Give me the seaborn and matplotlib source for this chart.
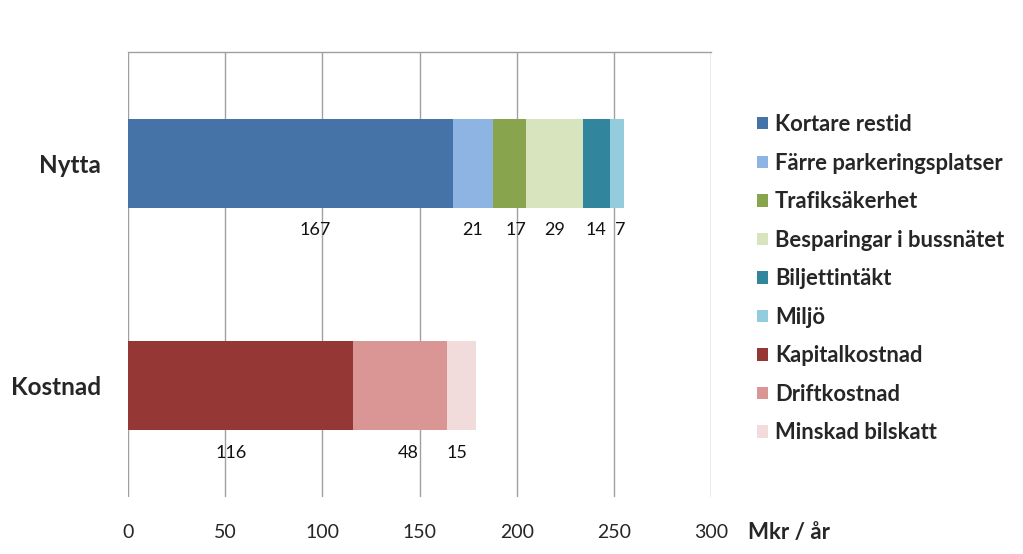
import matplotlib
matplotlib.use("Agg")
import matplotlib.pyplot as plt
import seaborn as sns
import pandas as pd
import numpy as np
from matplotlib.patches import Patch

categories = ["Nytta", "Kostnad"]
nytta_series = ["Kortare restid", "Färre parkeringsplatser", "Trafiksäkerhet",
                "Besparingar i bussnätet", "Biljettintäkt", "Miljö"]
nytta_values = [167, 21, 17, 29, 14, 7]
kostnad_series = ["Kapitalkostnad", "Driftkostnad", "Minskad bilskatt"]
kostnad_values = [116, 48, 15]
x_ticks = [0, 50, 100, 150, 200, 250, 300]
colors = {
    "Kortare restid": "#4572A7",
    "Färre parkeringsplatser": "#8EB4E3",
    "Trafiksäkerhet": "#88A44C",
    "Besparingar i bussnätet": "#D7E4BD",
    "Biljettintäkt": "#31859C",
    "Miljö": "#93CDDD",
    "Kapitalkostnad": "#953735",
    "Driftkostnad": "#D99694",
    "Minskad bilskatt": "#F2DCDB",
}
# label x offsets (data units) relative to segment centre
nytta_label_dx = [13, 0, 3, 0, 0, 2]
kostnad_label_dx = [-5, 4, -2]

sns.set_theme(style="white")
plt.rcParams["font.family"] = ["Lato", "DejaVu Sans"]

rows = []
for cat, series, vals in [("Nytta", nytta_series, nytta_values),
                          ("Kostnad", kostnad_series, kostnad_values)]:
    cum = np.cumsum(vals)
    for s, v, c in zip(series, vals, cum):
        rows.append(dict(category=cat, series=s, value=v, end=c, start=c - v))
df = pd.DataFrame(rows)

fig = plt.figure(figsize=(10.23, 5.54), dpi=100)
ax = fig.add_axes([128 / 1023, 1 - 497 / 554, (711 - 128) / 1023, (497 - 52) / 554])

# stacked bars: draw cumulative totals from longest to shortest
for _, r in df.iloc[::-1].iterrows():
    sub = df[df["series"] == r["series"]]
    sns.barplot(data=sub, x="end", y="category", order=categories,
                color=colors[r["series"]], width=0.4, orient="h",
                ax=ax, linewidth=0, saturation=1, errorbar=None)

ax.set_xlim(0, 300)
ax.set_ylim(1.5, -0.5)
ax.set_xticks(x_ticks)
ax.set_xticklabels([str(t) for t in x_ticks], fontsize=14)
ax.set_xlabel("")
ax.set_ylabel("")
ax.set_yticks([0, 1])
ax.set_yticklabels(categories, fontsize=17.5, fontweight="bold")
ax.tick_params(axis="y", length=0, pad=19.5)
ax.tick_params(axis="x", length=4.5, width=1, color="#A0A0A0", pad=15, direction="out")
ax.xaxis.grid(True, color="#A0A0A0", linewidth=1)
ax.set_axisbelow(True)
for side in ["left", "right", "bottom"]:
    ax.spines[side].set_visible(False)
ax.spines["top"].set_visible(True)
ax.spines["top"].set_color("#A0A0A0")
ax.spines["top"].set_linewidth(1)

# data labels below bars
for cat_i, (series, vals, dxs) in enumerate([(nytta_series, nytta_values, nytta_label_dx),
                                             (kostnad_series, kostnad_values, kostnad_label_dx)]):
    sub = df[df["category"] == categories[cat_i]]
    for (_, r), dx in zip(sub.iterrows(), dxs):
        xc = (r["start"] + r["end"]) / 2 + dx
        ax.text(xc, cat_i + 0.3, f"{int(r['value'])}", ha="center", va="center",
                fontsize=13, color="#111111")

fig.text(748 / 1023, 1 - 532 / 554, "Mkr / år", fontsize=16, fontweight="bold",
         ha="left", va="center")

legend_order = nytta_series + kostnad_series
handles = [Patch(facecolor=colors[s], edgecolor="none") for s in legend_order]
leg = fig.legend(handles, legend_order, loc="upper left",
                 bbox_to_anchor=(757 / 1023, 1 - 114 / 554), frameon=False,
                 prop={"family": "Lato", "weight": "bold", "size": 15.8},
                 handlelength=0.5, handleheight=0.5, handletextpad=0.32,
                 labelspacing=0.8, borderaxespad=0, borderpad=0)

fig.savefig("out.png", dpi=100)
